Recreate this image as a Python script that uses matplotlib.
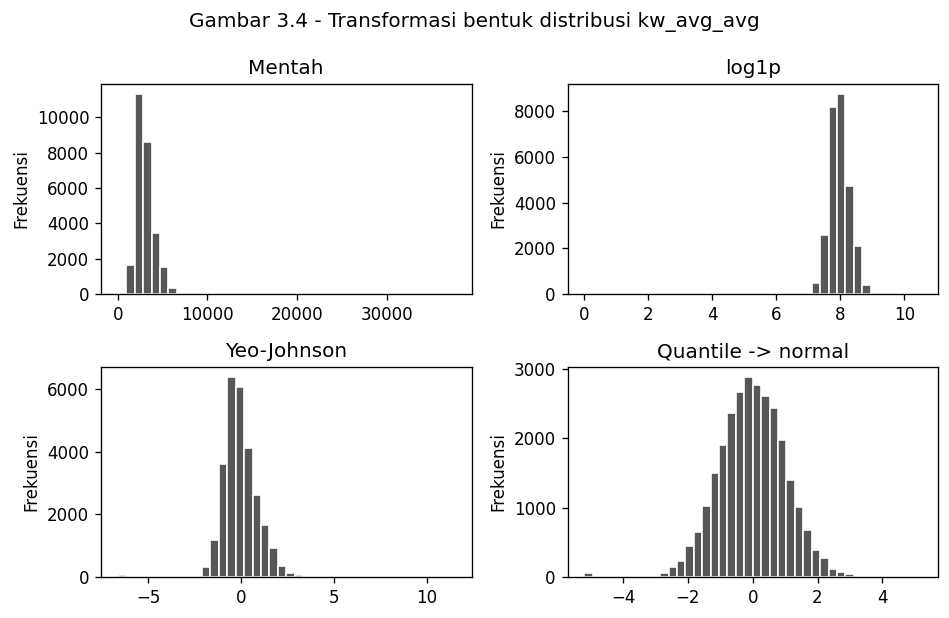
import numpy as np
import matplotlib
matplotlib.use("Agg")
import matplotlib.pyplot as plt

# ---- Data (40-bin histogram counts) ----
raw_range = (0.0, 37580.0)
raw_counts = [0, 1644, 11320, 8585, 3460, 1530, 363, 57] + [0] * 31 + [2]

log_range = (0.0, 10.53)
log_counts = [2] + [0] * 25 + [40, 486, 2563, 8159, 8748, 4713, 2091, 398, 60] + [0] * 4 + [2]

yj_range = (-6.62, 11.50)
yj_counts = [50] + [0] * 8 + [40, 320, 1196, 3619, 6384, 6053, 4110, 2605, 1644, 939,
                               363, 139, 50] + [0] * 17 + [2]

qn_range = (-5.199, 5.199)
qn_counts = [58] + [0] * 8 + [53, 140, 227, 444, 647, 1024, 1498, 1894, 2362, 2662,
                              2879, 2768, 2604, 2430, 1966, 1401, 1010, 676, 386, 271,
                              111, 72, 39] + [0] * 7 + [3]

titles = ["Mentah", "log1p", "Yeo-Johnson", "Quantile -> normal"]
suptitle = "Gambar 3.4 - Transformasi bentuk distribusi kw_avg_avg"
ylabel = "Frekuensi"

panels = [(raw_range, raw_counts), (log_range, log_counts),
          (yj_range, yj_counts), (qn_range, qn_counts)]

W, H = 949, 618
fig, axes = plt.subplots(2, 2, figsize=(W / 120, H / 120), dpi=120)
fig.subplots_adjust(left=101 / W, right=938 / W, top=1 - 84 / H, bottom=1 - 577 / H,
                    wspace=96 / 370.5, hspace=73 / 210)
for ax, title, (rng, counts) in zip(axes.flat, titles, panels):
    counts = np.asarray(counts, dtype=float)
    edges = np.linspace(rng[0], rng[1], len(counts) + 1)
    centers = 0.5 * (edges[:-1] + edges[1:])
    ax.hist(centers, bins=edges, weights=counts, color="#575757",
            edgecolor="white", linewidth=1.0)
    ax.set_title(title, fontsize=12)
    ax.set_ylabel(ylabel)

fig.suptitle(suptitle, fontsize=12)
fig.savefig("out.png", dpi=120)
